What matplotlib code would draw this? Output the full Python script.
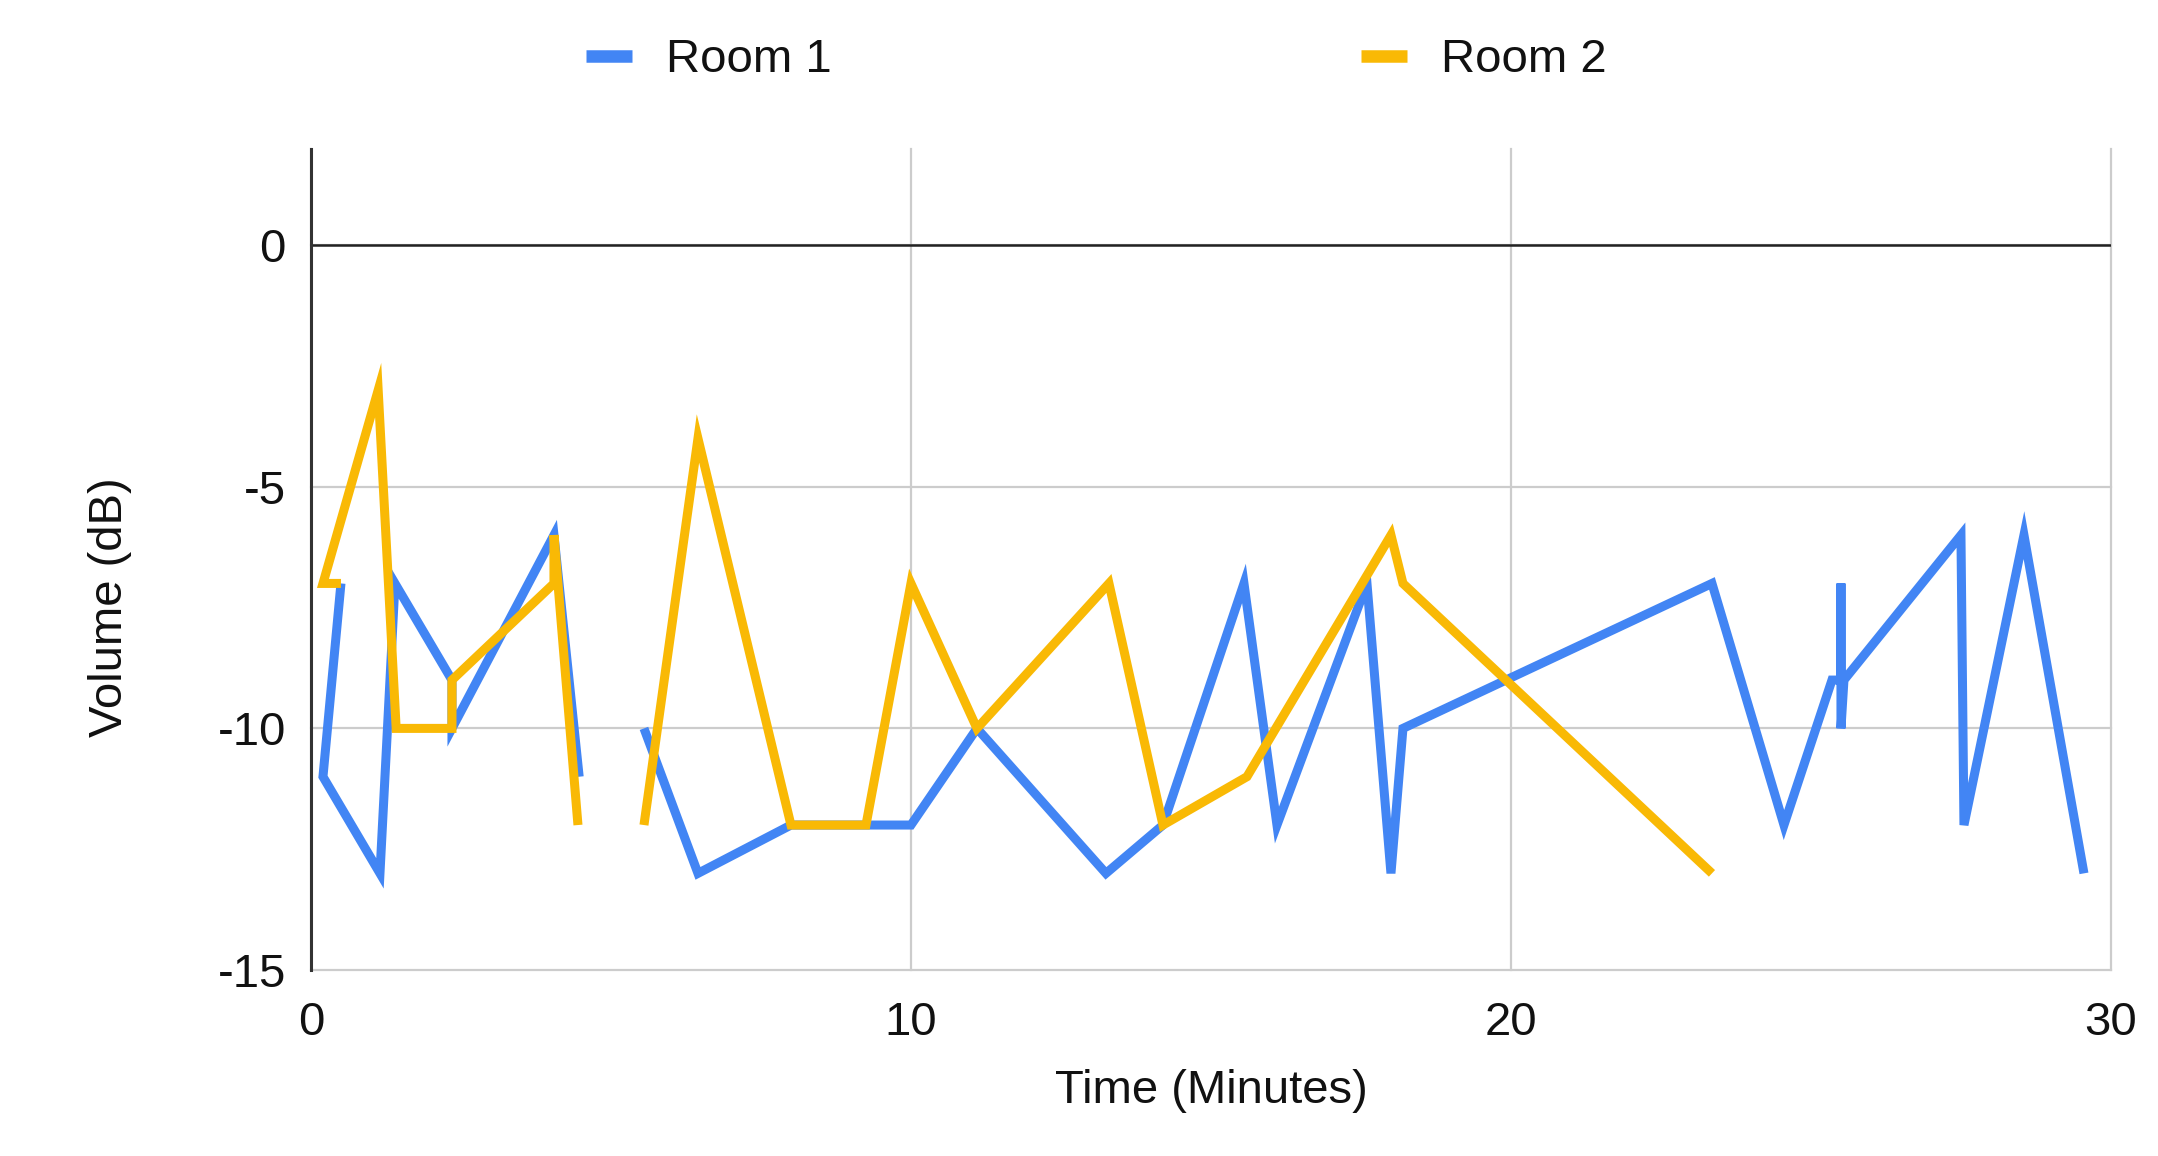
import numpy as np
import matplotlib
matplotlib.use("Agg")
import matplotlib.pyplot as plt
from matplotlib.lines import Line2D

# Sound level readings over time, one row per sample (nan = no reading)
room1_minutes = [0.5, 0.2, 1.15, 1.4, 2.35, 2.35, 4.05, 4.47, np.nan,
                 5.55, 6.45, 8.0, 10.0, 11.1, 13.25, 14.2, 15.55, 16.1,
                 17.6, 18.0, 18.2, 23.35, 24.55, 25.35, 25.5, 25.5, 25.5,
                 25.55, 27.5, 27.55, 28.55, 29.55]
room1_db = [-7, -11, -13, -7, -9, -10, -6, -11, np.nan,
            -10, -13, -12, -12, -10, -13, -12, -7, -12,
            -7, -13, -10, -7, -12, -9, -9, -7, -10,
            -9, -6, -12, -6, -13]

room2_minutes = [0.5, 0.2, 1.12, 1.42, 2.35, 2.35, 4.05, 4.05, 4.45, np.nan,
                 5.55, 6.45, 8.0, 9.25, 10.0, 11.1, 13.3, 14.2, 15.6,
                 18.0, 18.2, 23.35]
room2_db = [-7, -7, -3, -10, -10, -9, -7, -6, -12, np.nan,
            -12, -4, -12, -12, -7, -10, -7, -12, -11,
            -6, -7, -13]

labels = ["Room 1", "Room 2"]
colors = ["#4285F4", "#F9B905"]
x_ticks = [0, 10, 20, 30]
y_ticks = [0, -5, -10, -15]


def main():
    plt.rcParams["font.family"] = ["Liberation Sans", "DejaVu Sans"]
    plt.rcParams["axes.unicode_minus"] = False
    text_color = "#111111"

    fig = plt.figure(figsize=(21.58, 11.56), dpi=100)
    ax = fig.add_axes([0.1441, 0.1609, 0.8341, 0.7106])

    ax.plot(room1_minutes, room1_db, color=colors[0], lw=6.5,
            solid_joinstyle="miter", solid_capstyle="butt", zorder=3)
    ax.plot(room2_minutes, room2_db, color=colors[1], lw=6.5,
            solid_joinstyle="miter", solid_capstyle="butt", zorder=4)

    ax.set_xlim(0, 30)
    ax.set_ylim(-15, 2)
    ax.set_xticks(x_ticks)
    ax.set_yticks(y_ticks)
    ax.grid(True, color="#cccccc", lw=1.6, zorder=0)
    ax.set_axisbelow(True)
    for line in ax.get_xgridlines() + ax.get_ygridlines():
        line.set_clip_on(False)
    ax.axhline(0, color="#222222", lw=1.8, zorder=2)

    for side in ["top", "right", "bottom"]:
        ax.spines[side].set_visible(False)
    ax.spines["left"].set_color("#333333")
    ax.spines["left"].set_linewidth(2.2)
    ax.spines["left"].set_zorder(5)

    ax.tick_params(axis="both", length=0, labelsize=34, colors=text_color)
    ax.tick_params(axis="y", pad=18)
    ax.tick_params(axis="x", pad=22)

    ax.set_xlabel("Time (Minutes)", fontsize=34, color=text_color)
    ax.set_ylabel("Volume (dB)", fontsize=34, color=text_color)
    ax.xaxis.set_label_coords(0.5, -0.147)
    ax.yaxis.set_label_coords(-0.1117, 0.442)
    ax.xaxis.label.set_va("center")
    ax.yaxis.label.set_va("center")

    handles = [Line2D([0], [0], color=c, lw=9, solid_capstyle="butt")
               for c in colors]
    fig.legend(handles, labels, loc="center", bbox_to_anchor=(0.508, 0.9477),
               ncol=2, frameon=False, fontsize=34, handlelength=0.97,
               handletextpad=0.72, columnspacing=11.2, labelcolor=text_color)

    fig.savefig("out.png", dpi=100)


if __name__ == "__main__":
    main()
